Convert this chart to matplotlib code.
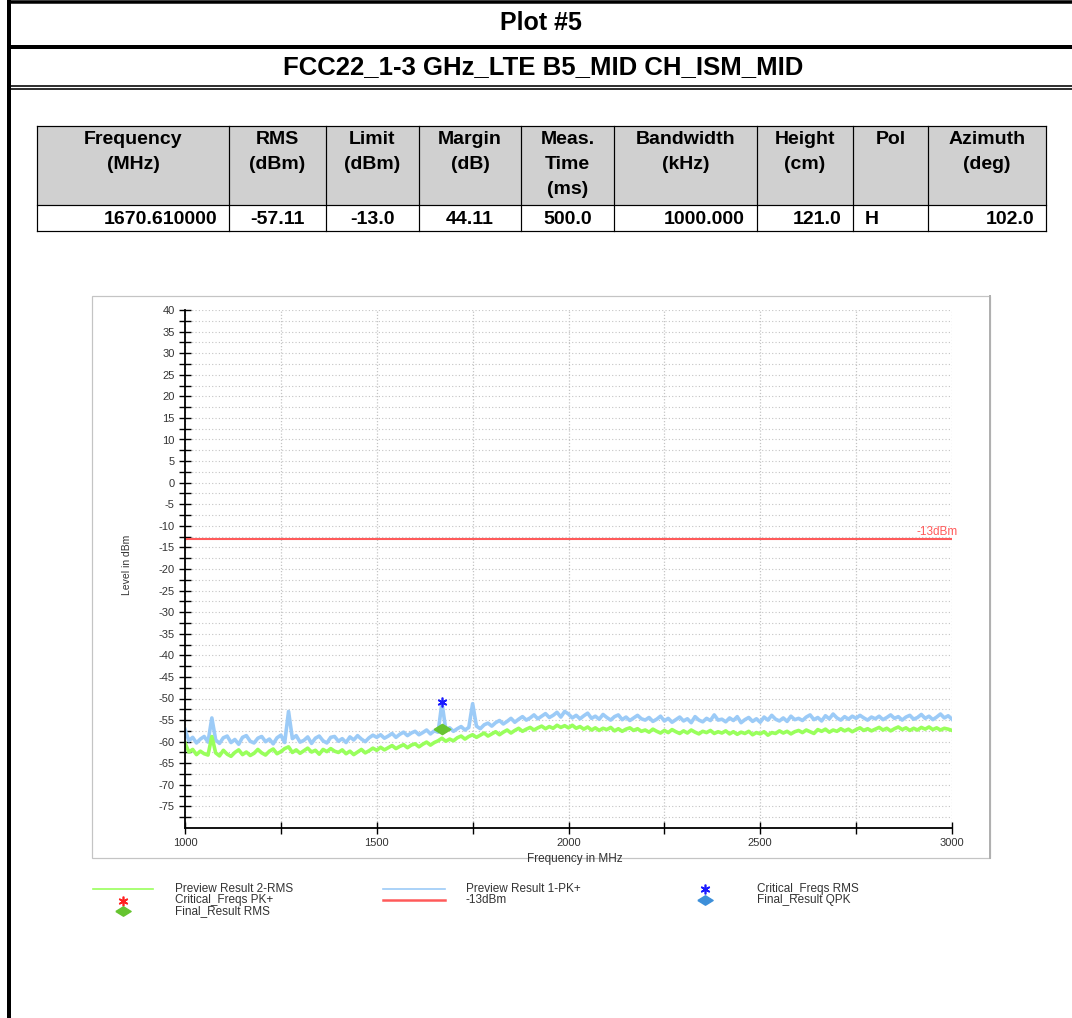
import numpy as np
import matplotlib.pyplot as plt
from matplotlib.patches import Rectangle

plt.rcParams['axes.unicode_minus'] = False
plt.rcParams['font.family'] = ['Liberation Sans', 'DejaVu Sans']

# ---- report text ----
plot_title = 'Plot #5'
test_name = 'FCC22_1-3 GHz_LTE B5_MID CH_ISM_MID'

table_head = ['Frequency\n(MHz)', 'RMS\n(dBm)', 'Limit\n(dBm)', 'Margin\n(dB)',
              'Meas.\nTime\n(ms)', 'Bandwidth\n(kHz)', 'Height\n(cm)', 'Pol',
              'Azimuth\n(deg)']
table_row = ['1670.610000', '-57.11', '-13.0', '44.11', '500.0', '1000.000',
             '121.0', 'H', '102.0']
row_align = ['right', 'center', 'center', 'center', 'center', 'right', 'right',
             'left', 'right']

# ---- sweep data (10 MHz steps) ----
freq_start = 1000
freq_stop = 3000
freq_mhz = np.linspace(freq_start, freq_stop, 201)

pk_dbm = [
    -57.2, -59.8, -59.0, -60.3, -59.4, -58.8, -60.1, -54.5, -59.6, -60.4,
    -59.1, -58.7, -60.2, -59.5, -60.6, -59.0, -58.6, -59.9, -60.3, -59.2,
    -58.8, -60.0, -59.4, -60.5, -59.1, -58.5, -60.2, -53.0, -59.3, -58.6,
    -60.1, -59.7, -58.9, -60.4, -59.2, -58.7, -59.8, -60.3, -59.0, -58.8,
    -59.9, -59.3, -60.2, -58.9, -59.6, -58.6, -59.4, -60.0, -59.1, -58.5,
    -59.0, -58.4, -59.2, -58.7, -58.1, -59.0, -58.3, -57.8, -58.6, -58.0,
    -57.6, -58.4, -57.9, -57.3, -58.2, -57.5, -57.8, -51.0, -57.2, -56.8,
    -57.6, -57.0, -56.5, -57.3, -56.7, -51.2, -56.4, -57.0, -56.1, -55.7,
    -56.4, -55.6, -55.1, -55.9, -55.3, -54.6, -55.5, -54.8, -54.2, -55.0,
    -54.5, -53.8, -54.7, -54.1, -53.5, -54.4, -53.9, -53.2, -54.3, -53.0,
    -53.6, -54.5, -53.9, -54.7, -54.0, -53.4, -54.6, -54.1, -54.8, -53.7,
    -54.4, -55.0, -54.2, -53.8, -54.9, -54.3, -55.1, -54.5, -53.9, -54.7,
    -55.0, -54.4, -55.3, -54.8, -54.1, -55.2, -54.6, -55.5, -54.9, -54.3,
    -55.2, -54.7, -55.6, -54.2, -55.0, -55.4, -54.6, -55.1, -53.8, -55.0,
    -54.8, -55.4, -54.5, -55.1, -54.2, -55.6, -54.9, -54.4, -55.3, -54.7,
    -55.5, -54.3, -55.0, -53.9, -54.8, -55.2, -54.5, -55.3, -54.1, -54.9,
    -54.6, -55.1, -54.3, -53.8, -54.9, -54.4, -55.2, -54.0, -54.7, -53.6,
    -54.5, -55.0, -54.2, -54.8, -54.1, -54.6, -53.9, -54.5, -55.0, -54.3,
    -54.7, -54.1, -54.9, -54.4, -53.8, -54.6, -54.2, -55.0, -54.3, -53.9,
    -54.8, -54.4, -53.7, -54.6, -54.1, -54.9, -54.3, -53.6, -54.5, -54.0,
    -54.8,
]

rms_dbm = [
    -60.3, -62.4, -61.8, -63.0, -62.2, -62.8, -63.1, -58.8, -62.6, -63.3,
    -62.0, -62.9, -63.4, -62.5, -61.9, -63.0, -62.4, -63.2, -62.7, -61.8,
    -62.6, -63.1, -62.2, -61.7, -62.8, -62.3, -61.6, -61.2, -62.5, -61.9,
    -62.7, -62.1, -61.5, -62.4, -62.0, -62.9, -61.8, -62.3, -61.6, -62.2,
    -62.5, -61.9, -62.8, -62.2, -63.0, -62.4, -61.8, -62.6, -62.1, -61.5,
    -62.0, -61.3, -61.9, -61.4, -60.9, -61.6, -61.1, -60.7, -61.4, -60.8,
    -60.5, -61.2, -60.6, -60.1, -60.8, -60.2, -59.8, -59.2, -59.9, -59.4,
    -59.8, -59.1, -58.7, -59.4, -58.8, -58.4, -59.0, -58.5, -58.0, -58.7,
    -58.2, -57.7, -58.4, -57.8, -57.3, -58.0, -57.4, -56.9, -57.6, -57.1,
    -56.7, -57.3, -56.8, -56.4, -57.0, -56.5, -56.9, -56.2, -56.7, -56.3,
    -56.8, -56.2, -56.9, -56.5, -57.1, -56.6, -57.3, -56.8, -57.4, -56.9,
    -57.2, -56.7, -57.5, -57.0, -57.6, -57.1, -56.8, -57.4, -57.0, -57.6,
    -57.3, -57.8, -57.1, -57.6, -58.0, -57.4, -57.9, -57.2, -57.7, -58.1,
    -57.5, -58.0, -57.3, -57.8, -58.2, -57.6, -57.9, -57.4, -58.1, -57.7,
    -58.0, -57.5, -58.2, -57.7, -58.3, -57.8, -58.1, -57.6, -58.4, -57.9,
    -58.2, -57.7, -58.5, -57.9, -58.1, -57.5, -58.0, -57.6, -58.2, -57.7,
    -57.4, -57.9, -57.3, -57.7, -58.1, -57.2, -57.6, -57.1, -57.8, -57.3,
    -57.6, -57.0, -57.5, -57.1, -57.7, -57.2, -56.8, -57.4, -57.0, -57.5,
    -57.1, -56.7, -57.3, -56.9, -57.5, -57.0, -56.6, -57.2, -56.8, -57.4,
    -56.9, -57.3, -56.7, -57.1, -56.6, -57.2, -56.8, -57.3, -56.9, -57.1,
    -57.4,
]

limit_dbm = -13.0
limit_label = '-13dBm'
crit_rms_freq = [1670.61]
crit_rms_level = [-50.7]
final_rms_freq = [1670.61]
final_rms_level = [-57.11]

legend_labels = ['Preview Result 2-RMS', 'Critical_Freqs PK+', 'Final_Result RMS',
                 'Preview Result 1-PK+', '-13dBm',
                 'Critical_Freqs RMS', 'Final_Result QPK']

c_pk = '#9ccbf7'
c_rms = '#99ff5c'
c_lim = '#ff5a5a'
c_diam = '#66c430'
diamond = [(-1, 0), (0, 0.62), (1, 0), (0, -0.62), (-1, 0)]
aster = (6, 2, 0)

W, H = 1072, 1018
fig = plt.figure(figsize=(W / 100, H / 100), dpi=100)

# page in pixel coordinates
page = fig.add_axes([0, 0, 1, 1])
page.set_xlim(0, W)
page.set_ylim(H, 0)
page.axis('off')

px = 0.72  # points per pixel
page.plot([9, 9], [0, H], color='k', lw=4 * px, solid_capstyle='butt')
page.plot([7, W], [1.5, 1.5], color='k', lw=3.5 * px, solid_capstyle='butt')
page.plot([7, W], [46.5, 46.5], color='k', lw=4 * px, solid_capstyle='butt')
page.plot([9, W], [85.5, 85.5], color='k', lw=1.6 * px, solid_capstyle='butt')
page.plot([9, W], [88.8, 88.8], color='k', lw=1.6 * px, solid_capstyle='butt')

page.text(541, 23, plot_title, ha='center', va='center', fontsize=18,
          fontweight='bold')
page.text(543, 67, test_name, ha='center', va='center', fontsize=18.5,
          fontweight='bold')

# result table
col_x = [37, 229, 326, 419, 521, 614, 757, 853, 928, 1046]
row_top, head_bot, row_bot = 126, 205, 231
page.add_patch(Rectangle((col_x[0], row_top), col_x[-1] - col_x[0],
                         head_bot - row_top, facecolor='#d0d0d0',
                         edgecolor='none'))
for y in (row_top, head_bot, row_bot):
    page.plot([col_x[0], col_x[-1]], [y, y], color='k', lw=1.2 * px)
for x in col_x:
    page.plot([x, x], [row_top, row_bot], color='k', lw=1.2 * px)

for i, head in enumerate(table_head):
    cx = (col_x[i] + col_x[i + 1]) / 2
    for j, part in enumerate(head.split('\n')):
        page.text(cx, 139 + 25 * j, part, ha='center', va='center',
                  fontsize=14, fontweight='bold')
    al = row_align[i]
    if al == 'right':
        tx = col_x[i + 1] - 12
    elif al == 'left':
        tx = col_x[i] + 12
    else:
        tx = cx
    page.text(tx, 219, table_row[i], ha=al, va='center', fontsize=14,
              fontweight='bold')

# chart frame
page.add_patch(Rectangle((92, 296), 898, 562, facecolor='white',
                         edgecolor='#c4c4c4', lw=1.2 * px))
page.plot([990, 990], [296, 858], color='#b0b0b0', lw=2 * px)

ax = fig.add_axes([185 / W, 1 - 828 / H, 767 / W, 518 / H])
ax.set_facecolor('none')
ax.set_xlim(freq_start, freq_stop)
ax.set_ylim(-80, 40)

xt = np.arange(freq_start, freq_stop + 1, 250)
ax.set_xticks(xt)
ax.set_xticklabels([str(int(v)) if v % 500 == 0 else '' for v in xt])
ax.set_yticks(np.arange(-75, 41, 5))
ax.set_yticks(np.arange(-77.5, 40, 5), minor=True)
ax.grid(axis='y', which='both', ls=(0, (1, 2)), color='#c4c4c4', lw=0.8)
ax.grid(axis='x', which='major', ls=(0, (1, 1.5)), color='#c4c4c4', lw=0.9)
ax.tick_params(axis='both', which='both', direction='inout', length=9,
               width=1, color='k', labelsize=8, labelcolor='#333333', pad=3)
for s in ('top', 'right'):
    ax.spines[s].set_visible(False)
for s in ('left', 'bottom'):
    ax.spines[s].set_linewidth(1.3)

ax.set_ylabel('Level in dBm', fontsize=7.5, color='#333333')
ax.yaxis.set_label_coords(-0.069, 0.508)
ax.set_xlabel('Frequency in MHz', fontsize=8.5, color='#333333')
ax.xaxis.set_label_coords(0.508, -0.048)

ax.plot(freq_mhz, pk_dbm, color=c_pk, lw=2.6)
ax.plot(freq_mhz, rms_dbm, color=c_rms, lw=2.6)
ax.plot([freq_start, freq_stop], [limit_dbm, limit_dbm], color=c_lim, lw=1.5)
ax.text(freq_stop + 15, limit_dbm + 0.2, limit_label, color=c_lim, fontsize=8.5,
        ha='right', va='bottom')
ax.plot(crit_rms_freq, crit_rms_level, ls='none', marker=aster, color='#1a1aff',
        ms=7, mew=1.2)
ax.plot(final_rms_freq, final_rms_level, ls='none', marker=diamond,
        color=c_diam, ms=12)

# legend block
leg_font = dict(fontsize=8.5, color='#333333', va='center', ha='left')
page.plot([93, 153], [889, 889], color=c_rms, lw=1.2)
page.text(175, 889, legend_labels[0], **leg_font)
page.plot([123], [901], ls='none', marker=aster, color='#ff2020', ms=7, mew=1.2)
page.text(175, 900, legend_labels[1], **leg_font)
page.plot([123], [911], ls='none', marker=diamond, color=c_diam, ms=11)
page.text(175, 911, legend_labels[2], **leg_font)
page.plot([383, 445], [889, 889], color=c_pk, lw=1.2)
page.text(466, 889, legend_labels[3], **leg_font)
page.plot([383, 445], [900, 900], color=c_lim, lw=1.8)
page.text(466, 900, legend_labels[4], **leg_font)
page.plot([705], [889], ls='none', marker=aster, color='#1a1aff', ms=7, mew=1.2)
page.text(757, 889, legend_labels[5], **leg_font)
page.plot([705], [900], ls='none', marker=diamond, color='#3d8fd9', ms=11)
page.text(757, 900, legend_labels[6], **leg_font)

fig.savefig('out.png', dpi=100)
